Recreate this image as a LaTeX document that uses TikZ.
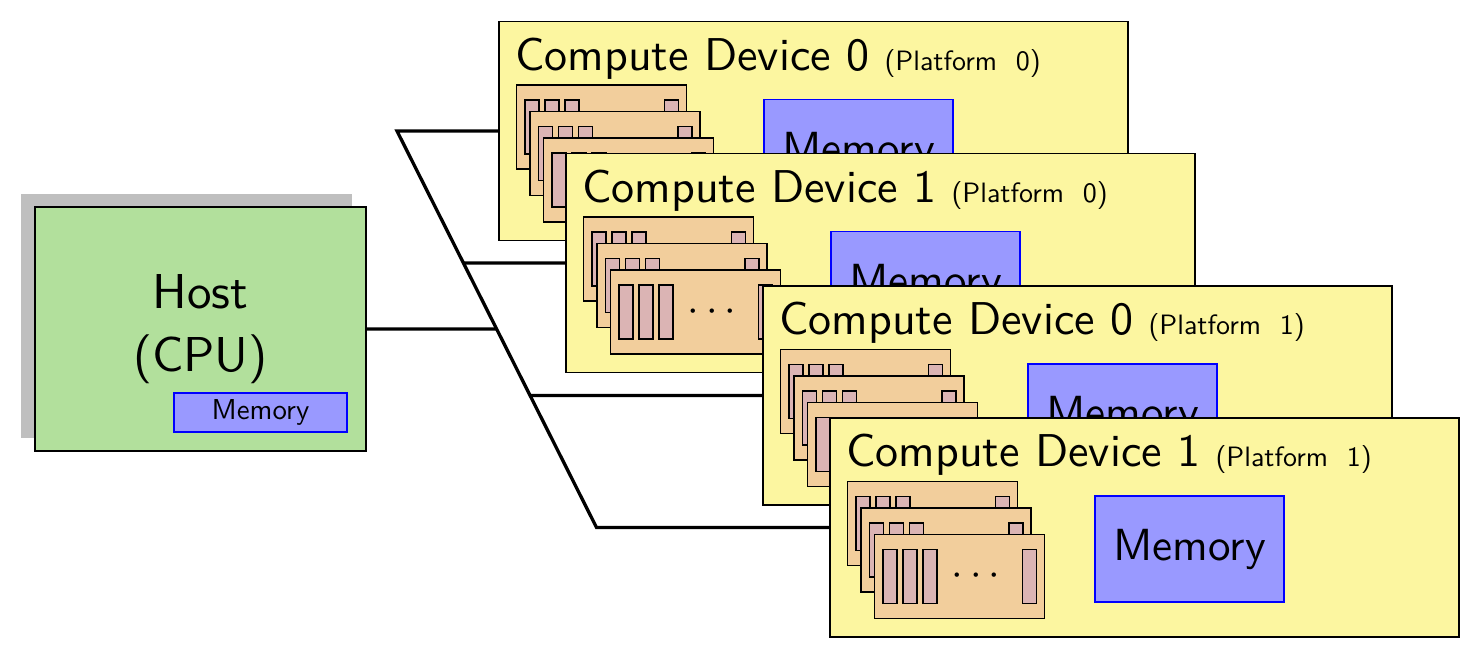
\documentclass[tikz,border=0pt]{standalone}
\usepackage{fontspec}
\newfontfamily\lmsansten{lmsans10-regular.otf}
\usetikzlibrary{calc}
\definecolor{devyellow}{RGB}{252,246,160}
\definecolor{cutan}{RGB}{242,206,156}
\definecolor{pepink}{RGB}{219,180,180}
\definecolor{memblue}{RGB}{153,153,255}
\definecolor{hostgreen}{RGB}{178,224,156}
\definecolor{shadowgray}{RGB}{191,191,191}
\newcommand\dvbigfont{\fontsize{23}{27}\selectfont}
\newcommand\dvmemfont{\fontsize{22.5}{27}\selectfont}
\newcommand\dvsmallfont{\fontsize{14}{17}\selectfont}
\newcommand\dvhostmemfont{\fontsize{14.4}{17}\selectfont}
\newcommand\dvhostfont{\fontsize{24.5}{31.5}\selectfont}
\newcommand\dvdotsfont{\fontsize{20}{24}\selectfont}
\tikzset{
  box/.style={anchor=north west, inner sep=0pt, outer sep=0pt, line width=0.9pt, draw=black},
  devbox/.style={box, fill=devyellow, minimum width=314.5pt, minimum height=109.5pt},
  cubox/.style={box, fill=cutan, minimum width=85pt, minimum height=42pt},
  pebox/.style={box, fill=pepink, line width=0.65pt, minimum width=7pt, minimum height=27pt},
  membox/.style={box, fill=memblue, draw=blue, minimum width=94.5pt, minimum height=53pt},
  devtitle/.style={anchor=base west, inner sep=0pt, font=\lmsansten\dvbigfont},
  memtext/.style={inner sep=0pt, font=\lmsansten\dvmemfont},
  bus/.style={line width=1.65pt, line join=miter},
  pics/device/.style 2 args={code={
    \node[devbox] (-box) at (0,0) {};
    \node[devtitle] (-title) at (16,49) {Compute Device #1 {\dvsmallfont(Platform~~#2)}};
    \foreach \k in {0,1,2}{
      \node[cubox] (-cu\k) at ({17.5+13.5*\k},{63.5+26.5*\k}) {};
      \foreach \j/\o in {0/8.5,1/28.5,2/48.5,3/148}{
        \node[pebox] (-cu\k-pe\j) at ({17.5+13.5*\k+\o},{63.5+26.5*\k+15}) {};
      }
    }
    \node[inner sep=0pt, font=\dvdotsfont] (-dots) at (17.5+27+101.5,63.5+53+42) {$\cdots$};
    \node[membox] (-mem) at (265,78) {};
    \node[memtext] (-memtext) at (-mem.center) {Memory};
  }}
}
\begin{document}
\begin{tikzpicture}[x=0.5pt,y=-0.5pt]
\useasboundingbox (0,0) rectangle (1474,662);
% host
\fill[shadowgray] (21,194) rectangle (352,438);
\node[box, fill=hostgreen, minimum width=165.5pt, minimum height=122pt] (host) at (35,207) {};
\node[align=center, inner sep=0pt, font=\lmsansten\dvhostfont] (hosttext) at (200.5,329) {Host\\(CPU)};
\node[box, fill=memblue, draw=blue, minimum width=86.5pt, minimum height=19.5pt] (hostmem) at (174,393) {};
\node[inner sep=0pt, font=\lmsansten\dvhostmemfont] (hostmemtext) at (hostmem.center) {Memory};
% device positions
\path (499,21.5) coordinate (pA) (566,153.5) coordinate (pB) (763,286) coordinate (pC) (830,418) coordinate (pD);
\coordinate (Awest) at ($(pA)+(0,109.5)$);
\coordinate (Bwest) at ($(pB)+(0,109.5)$);
\coordinate (Cwest) at ($(pC)+(0,109.5)$);
\coordinate (Dwest) at ($(pD)+(0,109.5)$);
% bus coordinates
\coordinate (bustop) at ($(Awest)+(-102,0)$);
\coordinate (busbot) at ($(Dwest)+(-233.5,0)$);
\coordinate (hostfar) at ($(host.east)+(500,0)$);
\coordinate (Bfar) at ($(Bwest)+(-300,0)$);
\coordinate (Cfar) at ($(Cwest)+(-400,0)$);
% connectors drawn first (behind devices)
\draw[bus] (Awest) -- (bustop) -- (busbot) -- (Dwest);
\draw[bus] (Bwest) -- (intersection of bustop--busbot and Bwest--Bfar);
\draw[bus] (Cwest) -- (intersection of bustop--busbot and Cwest--Cfar);
\draw[bus] (host.east) -- (intersection of bustop--busbot and host.east--hostfar);
% devices
\pic (devA) at (pA) {device={0}{0}};
\pic (devB) at (pB) {device={1}{0}};
\pic (devC) at (pC) {device={0}{1}};
\pic (devD) at (pD) {device={1}{1}};
\end{tikzpicture}
\end{document}
